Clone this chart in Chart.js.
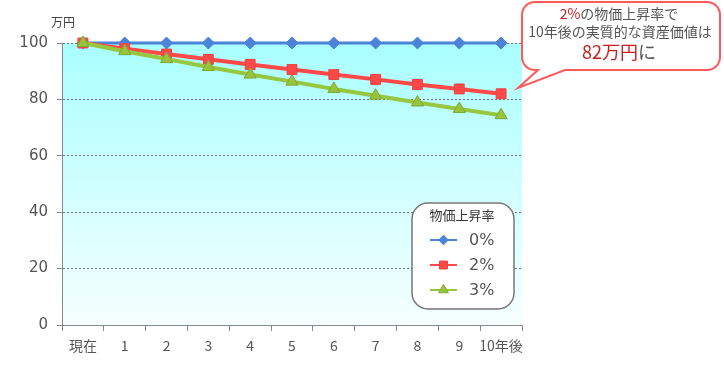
<!DOCTYPE html>
<html>
<head>
<meta charset="utf-8">
<script src="https://cdn.jsdelivr.net/npm/chart.js@4.4.0/dist/chart.umd.min.js"></script>
<style>
  html, body { margin: 0; padding: 0; background: #fff; }
  #wrap { width: 724px; height: 379px; position: relative; }
</style>
</head>
<body>
<div id="wrap"><canvas id="c" width="724" height="379"></canvas></div>
<script>
const labels = ['現在', '1', '2', '3', '4', '5', '6', '7', '8', '9', '10年後'];
const rate0 = [100, 100, 100, 100, 100, 100, 100, 100, 100, 100, 100];
const rate2 = [100, 98.0, 96.1, 94.2, 92.4, 90.6, 88.8, 87.1, 85.3, 83.7, 82.0];
const rate3 = [100, 97.1, 94.3, 91.5, 88.8, 86.3, 83.7, 81.3, 78.9, 76.6, 74.4];
const yTicks = [0, 20, 40, 60, 80, 100];
const legendTitle = '物価上昇率';
const seriesNames = ['0%', '2%', '3%'];

const FONT = '"Noto Sans CJK JP", "DejaVu Sans", sans-serif';

const bgPlugin = {
  id: 'bg',
  beforeDraw(chart) {
    const { ctx, chartArea: a } = chart;
    const g = ctx.createLinearGradient(0, a.top, 0, a.bottom);
    g.addColorStop(0, '#a9ffff');
    g.addColorStop(1, '#f6ffff');
    ctx.save();
    ctx.fillStyle = g;
    ctx.fillRect(a.left, a.top, a.right - a.left, a.bottom - a.top);
    ctx.restore();
  },
  afterDraw(chart) {
    const { ctx } = chart;
    ctx.save();
    // unit label
    ctx.fillStyle = '#444';
    ctx.font = '12px ' + FONT;
    ctx.textAlign = 'center';
    ctx.textBaseline = 'middle';
    ctx.fillText('万円', 63, 22);

    // legend box
    const lx = 412, ly = 203, lw = 102, lh = 106;
    ctx.beginPath();
    ctx.roundRect(lx, ly, lw, lh, 16);
    ctx.fillStyle = '#fff';
    ctx.fill();
    ctx.strokeStyle = '#777';
    ctx.lineWidth = 1.5;
    ctx.stroke();
    ctx.fillStyle = '#333';
    ctx.font = '13px ' + FONT;
    ctx.fillText(legendTitle, 462, 215);
    chart.data.datasets.forEach((ds, i) => {
      const y = 240 + i * 25;
      ctx.strokeStyle = ds.borderColor;
      ctx.lineWidth = 2;
      ctx.beginPath();
      ctx.moveTo(430, y);
      ctx.lineTo(457, y);
      ctx.stroke();
      ctx.fillStyle = ds.pointBackgroundColor;
      ctx.strokeStyle = ds.pointBorderColor;
      ctx.lineWidth = 1;
      Chart.helpers.drawPoint(ctx, { pointStyle: ds.pointStyle, radius: ds.pointRadius * 0.8, borderWidth: 1 }, 443.5, y);
      ctx.fillStyle = '#555';
      ctx.font = '16px "DejaVu Sans", sans-serif';
      ctx.textAlign = 'left';
      ctx.fillText(seriesNames[i], 469, y + 1);
      ctx.textAlign = 'center';
    });

    // callout
    ctx.beginPath();
    const x0 = 522, y0 = 2, x1 = 720, y1 = 70, r = 13;
    ctx.moveTo(x0 + r, y0);
    ctx.lineTo(x1 - r, y0);
    ctx.arcTo(x1, y0, x1, y0 + r, r);
    ctx.lineTo(x1, y1 - r);
    ctx.arcTo(x1, y1, x1 - r, y1, r);
    ctx.lineTo(565, y1);
    ctx.lineTo(518, 88);
    ctx.lineTo(538, y1);
    ctx.lineTo(x0 + r, y1);
    ctx.arcTo(x0, y1, x0, y1 - r, r);
    ctx.lineTo(x0, y0 + r);
    ctx.arcTo(x0, y0, x0 + r, y0, r);
    ctx.closePath();
    ctx.fillStyle = '#fff';
    ctx.fill();
    ctx.strokeStyle = '#ff5a5a';
    ctx.lineWidth = 2;
    ctx.stroke();

    const drawParts = (parts, cx, cy, font) => {
      ctx.font = font;
      ctx.textAlign = 'left';
      const w = parts.reduce((s, p) => s + ctx.measureText(p[0]).width, 0);
      let x = cx - w / 2;
      parts.forEach(p => {
        ctx.fillStyle = p[1];
        ctx.fillText(p[0], x, cy);
        x += ctx.measureText(p[0]).width;
      });
    };
    drawParts([['2%', '#c81e1e'], ['の物価上昇率で', '#555']], 619, 14, '14px ' + FONT);
    drawParts([['10年後の実質的な資産価値は', '#555']], 620, 32, '14px ' + FONT);
    drawParts([['82万円', '#c81e1e'], ['に', '#555']], 619, 52, '18px ' + FONT);
    ctx.restore();
  }
};

new Chart(document.getElementById('c'), {
  type: 'line',
  data: {
    labels: labels,
    datasets: [
      {
        label: seriesNames[0], data: rate0, order: 2, clip: false,
        borderColor: '#4a83d8', borderWidth: 3,
        pointStyle: 'rectRot', pointRadius: 6, pointHoverRadius: 6,
        pointBackgroundColor: '#4a83d8', pointBorderColor: '#4a83d8', pointBorderWidth: 1,
      },
      {
        label: seriesNames[1], data: rate2, order: 1, clip: false,
        borderColor: '#ff4848', borderWidth: 4,
        pointStyle: 'rect', pointRadius: 7, pointHoverRadius: 7,
        pointBackgroundColor: '#ff4848', pointBorderColor: '#f04040', pointBorderWidth: 1,
      },
      {
        label: seriesNames[2], data: rate3, order: 0, clip: false,
        borderColor: '#95c840', borderWidth: 4,
        pointStyle: 'triangle', pointRadius: 7, pointHoverRadius: 7,
        pointBackgroundColor: '#96c43c', pointBorderColor: '#7fa834', pointBorderWidth: 1,
      },
    ],
  },
  options: {
    responsive: false,
    animation: false,
    layout: { padding: { left: 0, right: 202, top: 43, bottom: 0 } },
    plugins: { legend: { display: false }, tooltip: { enabled: false } },
    elements: { line: { tension: 0 } },
    scales: {
      x: {
        offset: true,
        afterFit: s => { s.height = 54; },
        border: { color: '#888', width: 1 },
        grid: { offset: true, drawOnChartArea: false, color: '#888', tickLength: 6 },
        ticks: { color: '#555', font: { family: FONT, size: 14 }, padding: 6, maxRotation: 0, autoSkip: false },
      },
      y: {
        min: 0, max: 100,
        afterFit: s => { s.width = 62; },
        afterBuildTicks: s => { s.ticks = yTicks.map(v => ({ value: v })); },
        border: { color: '#888', width: 1, dash: [2, 2] },
        grid: {
          color: '#6f7373', lineWidth: 1,
          tickColor: '#888', tickBorderDash: [], tickLength: 5,
        },
        ticks: { color: '#555', font: { family: '"DejaVu Sans", sans-serif', size: 15 }, padding: 9 },
      },
    },
  },
  plugins: [bgPlugin],
});
</script>
</body>
</html>
